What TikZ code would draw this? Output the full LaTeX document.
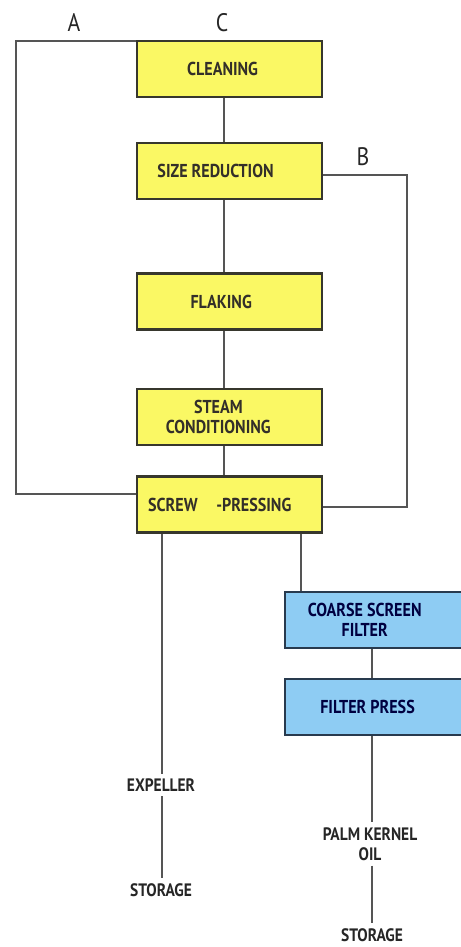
\documentclass[tikz,border=0pt]{standalone}
\usepackage{fontspec}
\setmainfont{PT Sans}[FakeStretch=0.86]
\usetikzlibrary{calc,positioning}
\definecolor{procyellow}{RGB}{250,248,100}
\definecolor{filterblue}{RGB}{142,204,243}
\definecolor{boxedge}{RGB}{55,55,45}
\definecolor{blueedge}{RGB}{40,58,78}
\definecolor{pipegray}{RGB}{85,85,85}

\begin{document}
\begin{tikzpicture}[font=\small,
    ybox/.style={draw=boxedge, line width=1.5pt, fill=procyellow,
      minimum width=4.625cm, minimum height=1.4cm, inner sep=0pt},
    bbox/.style={draw=blueedge, line width=1.5pt, fill=filterblue,
      minimum width=4.9cm, minimum height=1.4cm, inner sep=0pt},
    ytxt/.style={text=black!85!olive, font=\bfseries\fontsize{13.3}{14}\selectfont, align=center},
    btxt/.style={text=blue!25!black, font=\bfseries\fontsize{13.3}{14}\selectfont, align=center},
    ptxt/.style={font=\bfseries\fontsize{12.8}{14.5}\selectfont, align=center, text=black!85},
    pipe/.style={draw=pipegray, line width=1.4pt},
    tag/.style={font=\fontsize{18}{20}\selectfont, text=black!85}]
  \useasboundingbox (0,0) rectangle (11.525,23.675);
  \clip (0,0) rectangle (11.525,23.675);
  %% Main process line (yellow)
  \node[ybox, label={[ytxt, xshift=-5pt]center:CLEANING}] (clean) at (5.74,21.95) {};
  \node[ybox, label={[ytxt, xshift=-10pt]center:SIZE REDUCTION}] (size) at (5.74,19.4) {};
  \node[ybox, label={[ytxt, xshift=-6pt]center:FLAKING}] (flake) at (5.74,16.1375) {};
  \node[ybox, label={[ytxt, xshift=-8pt]center:STEAM\\CONDITIONING}] (steam) at (5.74,13.25) {};
  \node[ybox, label={[ytxt, xshift=-7pt]center:SCREW\quad -PRESSING}] (screw) at (5.74,11.0625) {};
  %% Oil filtration (blue)
  \node[bbox, label={[btxt, xshift=-13pt]center:COARSE SCREEN\\FILTER}] (coarse) at (9.575,8.175) {};
  \node[bbox, label={[btxt, xshift=-11pt]center:FILTER PRESS}] (fpress) at (9.575,6.0) {};
  %% Products
  \node[ptxt] (expel) at (4.025,4.05) {EXPELLER};
  \node[ptxt] (store1) at (4.025,1.425) {STORAGE};
  \node[ptxt] (pko) at (9.25,2.575) {PALM KERNEL\\OIL};
  \node[ptxt] (store2) at (9.3,0.3) {STORAGE};
  %% Loop labels
  \node[tag] (tagA) at (1.85,23.1) {A};
  \node[tag] (tagC) at (5.55,23.1) {C};
  \node[tag] (tagB) at (9.075,19.75) {B};
  %% Connectors
  \coordinate (spine) at (5.6,0);
  \coordinate (lout) at (4.05,0);
  \coordinate (rout) at (7.525,0);
  \coordinate (fline) at (9.3,0);
  \draw[pipe] (clean.south -| spine) -- (size.north -| spine);
  \draw[pipe] (size.south -| spine) -- (flake.north -| spine);
  \draw[pipe] (flake.south -| spine) -- (steam.north -| spine);
  \draw[pipe] (steam.south -| spine) -- (screw.north -| spine);
  %% Recycle loop A (left)
  \coordinate (aTop) at (0.4,22.65);
  \coordinate (aBot) at (0.4,11.325);
  \draw[pipe] (aTop -| clean.west) -- (aTop) -- (aBot) -- (aBot -| screw.west);
  %% Recycle loop B (right)
  \coordinate (bTop) at (10.175,19.3);
  \coordinate (bBot) at (10.175,11.0);
  \draw[pipe] (bTop -| size.east) -- (bTop) -- (bBot) -- (bBot -| screw.east);
  %% Outlets
  \draw[pipe] (screw.south -| lout) -- (expel.north -| lout);
  \draw[pipe] (expel.south -| lout) -- (store1.north -| lout);
  \draw[pipe] (screw.south -| rout) -- (coarse.north -| rout);
  \draw[pipe] (coarse.south -| fline) -- (fpress.north -| fline);
  \draw[pipe] (fpress.south -| fline) -- (pko.north -| fline);
  \draw[pipe] (pko.south -| fline) -- (store2.north -| fline);
\end{tikzpicture}
\end{document}
